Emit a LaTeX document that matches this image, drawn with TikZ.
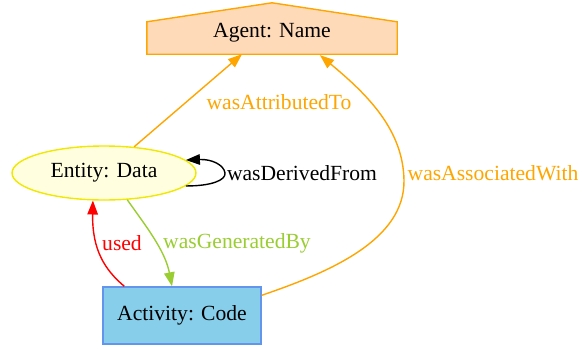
\documentclass[tikz,border=0pt]{standalone}
\usepackage{fontspec}
\setmainfont{Liberation Serif}
\usetikzlibrary{arrows.meta,shapes.geometric,calc,backgrounds}
\definecolor{agentfill}{HTML}{FFDAB9}
\definecolor{agentline}{HTML}{FFA500}
\definecolor{entfill}{HTML}{FFFFE0}
\definecolor{entline}{HTML}{F0E800}
\definecolor{actfill}{HTML}{87CEEB}
\definecolor{actline}{HTML}{6495ED}
\definecolor{gengreen}{HTML}{9ACD32}
\tikzset{
  lbl/.style={font=\fontsize{21.6}{24}\selectfont, inner sep=0pt},
  conn/.style={line width=1.4pt, -{Triangle[length=14pt,width=10.5pt]}},
}
\begin{document}
\begin{tikzpicture}[x=1pt,y=-1pt]
\useasboundingbox (0,0) rectangle (582,349);
% Agent (house)
\node[lbl, minimum width=250, minimum height=32, text height=15pt, text depth=5pt] (agent) at (272,38) {\raisebox{6pt}{Agent: Name}};
\begin{scope}[on background layer]
\draw[line width=1.4pt, draw=agentline, fill=agentfill]
  (agent.south west) -- (agent.north west) -- ($(agent.north)+(0,-19)$) -- (agent.north east) -- (agent.south east) -- cycle;
\end{scope}
% Entity
\node[lbl, ellipse, draw=entline, fill=entfill, line width=1.4pt, minimum width=184, minimum height=54] (entity) at (104,173) {Entity: Data};
% Activity
\node[lbl, rectangle, draw=actline, fill=actfill, line width=1.4pt, minimum width=158, minimum height=57] (activity) at (182,315.5) {Activity: Code};
% wasAttributedTo
\draw[conn, draw=agentline] (entity.41) -- ($(agent.south)+(-30,0)$);
\node[lbl, text=agentline] (l1) at (279,102) {wasAttributedTo};
% wasAssociatedWith
\draw[conn, draw=agentline] ($(activity.north east)+(0,9)$) .. controls (330,272) and (405,240) .. (404,180) .. controls (403,130) and (368,95) .. ($(agent.south)+(48,1)$);
\node[lbl, text=agentline] (l2) at (493,173) {wasAssociatedWith};
% wasDerivedFrom (self loop)
\draw[conn, draw=black] (entity.-9) .. controls (212,186) and (226,180) .. (225,173) .. controls (224,165) and (212,159) .. (entity.9);
\node[lbl, text=black] (l3) at (302,173) {wasDerivedFrom};
% used
\draw[conn, draw=red] ($(activity.north west)+(22,0)$) .. controls (105,270) and (92,250) .. (entity.248);
\node[lbl, text=red] (l4) at (122,243) {used};
% wasGeneratedBy
\draw[conn, draw=gengreen] (entity.311) .. controls (145,225) and (165,250) .. ($(activity.north)+(-10,0)$);
\node[lbl, text=gengreen] (l5) at (237,243) {wasGeneratedBy};
\end{tikzpicture}
\end{document}
